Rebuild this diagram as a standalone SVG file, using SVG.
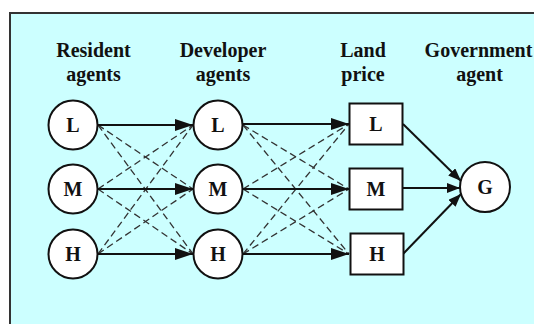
<svg xmlns="http://www.w3.org/2000/svg" width="534" height="324" viewBox="0 0 534 324">
<defs>
<style>
.bg{fill:#ccffff;stroke:#333;stroke-width:2}
.node{fill:#fff;stroke:#111;stroke-width:2}
.lbl{font-family:"Liberation Serif","Times New Roman",serif;font-weight:bold;font-size:20px;fill:#111;text-anchor:middle}
.solid{stroke:#111;stroke-width:2;fill:none}
.dash{stroke:#333;stroke-width:1.3;stroke-dasharray:7,4;fill:none}
</style>
<marker id="big" markerUnits="userSpaceOnUse" viewBox="0 0 18 12" refX="18" refY="6" markerWidth="18" markerHeight="12" orient="auto">
<path d="M0,0 L18,6 L0,12 Z" fill="#111"/>
</marker>
<marker id="small" markerUnits="userSpaceOnUse" viewBox="0 0 13 10" refX="13" refY="5" markerWidth="13" markerHeight="10" orient="auto">
<path d="M0,0 L13,5 L0,10 Z" fill="#111"/>
</marker>
</defs>
<rect x="0" y="0" width="534" height="324" fill="#fff"/>
<rect class="bg" x="10" y="13" width="600" height="400"/>

<g id="headers">
<text class="lbl" x="93.5" y="57">Resident</text>
<text class="lbl" x="93.5" y="81">agents</text>
<text class="lbl" x="223" y="57">Developer</text>
<text class="lbl" x="223" y="81">agents</text>
<text class="lbl" x="363" y="57">Land</text>
<text class="lbl" x="363" y="81">price</text>
<text class="lbl" x="478.5" y="57">Government</text>
<text class="lbl" x="479.5" y="81">agent</text>
</g>

<g id="connectors">
<line class="dash" x1="98" y1="125" x2="193" y2="189"/>
<line class="dash" x1="98" y1="125" x2="193" y2="254"/>
<line class="dash" x1="98" y1="189" x2="193" y2="125"/>
<line class="dash" x1="98" y1="189" x2="193" y2="254"/>
<line class="dash" x1="98" y1="254" x2="193" y2="125"/>
<line class="dash" x1="98" y1="254" x2="193" y2="189"/>
<line class="dash" x1="243" y1="125" x2="349" y2="189"/>
<line class="dash" x1="243" y1="125" x2="349" y2="254"/>
<line class="dash" x1="243" y1="189" x2="349" y2="124"/>
<line class="dash" x1="243" y1="189" x2="349" y2="254"/>
<line class="dash" x1="243" y1="254" x2="349" y2="124"/>
<line class="dash" x1="243" y1="254" x2="349" y2="189"/>
<line class="solid" x1="98" y1="125" x2="193" y2="125" marker-end="url(#big)"/>
<line class="solid" x1="98" y1="189" x2="193" y2="189" marker-end="url(#big)"/>
<line class="solid" x1="98" y1="254" x2="193" y2="254" marker-end="url(#big)"/>
<line class="solid" x1="243" y1="124" x2="349" y2="124" marker-end="url(#big)"/>
<line class="solid" x1="243" y1="189" x2="349" y2="189" marker-end="url(#big)"/>
<line class="solid" x1="243" y1="254" x2="349" y2="254" marker-end="url(#big)"/>
<line class="solid" x1="403" y1="124" x2="461" y2="181" marker-end="url(#small)"/>
<line class="solid" x1="403" y1="188" x2="460" y2="188" marker-end="url(#small)"/>
<line class="solid" x1="403" y1="254" x2="461" y2="194" marker-end="url(#small)"/>
</g>

<g id="resident-L"><circle class="node" cx="73" cy="125" r="24.5"/><text class="lbl" x="73" y="132">L</text></g>
<g id="resident-M"><circle class="node" cx="73" cy="189" r="24.5"/><text class="lbl" x="73" y="196">M</text></g>
<g id="resident-H"><circle class="node" cx="73" cy="254" r="24.5"/><text class="lbl" x="73" y="261">H</text></g>
<g id="developer-L"><circle class="node" cx="218" cy="125" r="24.5"/><text class="lbl" x="218" y="132">L</text></g>
<g id="developer-M"><circle class="node" cx="218" cy="189" r="24.5"/><text class="lbl" x="218" y="196">M</text></g>
<g id="developer-H"><circle class="node" cx="218" cy="254" r="24.5"/><text class="lbl" x="218" y="261">H</text></g>
<g id="price-L"><rect class="node" x="349.5" y="103.5" width="53" height="41"/><text class="lbl" x="376" y="131">L</text></g>
<g id="price-M"><rect class="node" x="349.5" y="168.5" width="53" height="41"/><text class="lbl" x="376" y="196">M</text></g>
<g id="price-H"><rect class="node" x="350.5" y="233.5" width="53" height="41"/><text class="lbl" x="377" y="261">H</text></g>
<g id="government-G"><circle class="node" cx="485" cy="187" r="25"/><text class="lbl" x="485" y="194">G</text></g>
</svg>
